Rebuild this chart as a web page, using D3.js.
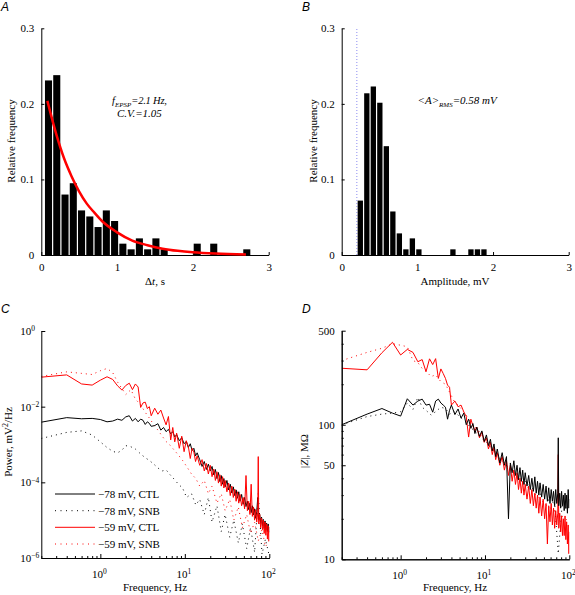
<!DOCTYPE html>
<html><head><meta charset="utf-8">
<script src="https://cdn.jsdelivr.net/npm/d3@7"></script>
<style>
body{margin:0;background:#fff;}
svg{display:block;}
</style></head><body>
<svg id="fig" width="575" height="595"></svg>
<script>
// ---------------- DATA ----------------
// Panel A: inter-EPSP interval histogram (relative frequency)
const intervalBinWidth = 0.109; // s
const intervalBinCenters = [0.095,0.204,0.313,0.422,0.531,0.640,0.749,0.858,0.967,1.076,1.185,1.294,1.403,1.512,1.621,1.730,1.839,1.948,2.057,2.166,2.275,2.384,2.493,2.602,2.711];
const intervalFreq = [0.231,0.238,0.080,0.095,0.059,0.051,0.037,0.059,0.045,0.015,0.0075,0.022,0.0075,0.022,0.0075,0,0,0,0.015,0,0.015,0,0,0,0.0075];
// exponential fit
const fitTime = [0.08,0.2,0.3,0.4,0.5,0.6,0.7,0.8,1.0,1.2,1.4,1.6,1.8,2.0,2.3,2.7];
const fitFreq = [0.204,0.159,0.128,0.104,0.084,0.068,0.056,0.045,0.030,0.019,0.013,0.0084,0.0055,0.0036,0.0019,0.0008];

// Panel B: EPSP amplitude histogram
const amplitudeBinWidth = 0.086; // mV
const amplitudeBinCenters = [0.246,0.332,0.418,0.504,0.590,0.676,0.762,0.848,0.934,1.020,1.470,1.708,1.794,1.880];
const amplitudeFreq = [0.072,0.214,0.223,0.2015,0.144,0.0576,0.0286,0.0075,0.022,0.0075,0.0075,0.0075,0.0075,0.0075];
const amplitudeThreshold = 0.2;

const histXTicks = [0,1,2,3];
const histXTickLabels = ["0","1","2","3"];
const histYTicks = [0,0.1,0.2,0.3];
const histYTickLabels = ["0","0.1","0.2","0.3"];

// Panels C & D: frequency grids (Hz)
const freqFine = [0.2,0.4,0.6,0.8,1.0,1.2,1.4,1.6,1.8,2.0,2.2,2.4,2.6,2.8,3.0,3.2,3.4,3.6,3.8,4.0,
 4.4,4.8,5.2,5.6,6.0,6.4,6.8,7.2,7.6,8.0,8.6,9.2,9.8,10.4,11.0,11.6,12.2,12.8,13.4,14.0,
 15,16,17,18,19,20,21,22,23,24,25,26,27,28,29,30,
 31.5,33,34.5,36,37.5,39,40.5,42,43.5,45,
 47,49,51,53,55,57,59,61,63,65,67,69,71,73,
 74,
 75,77,79,81,83,85,87,89,91,93,95,97,99,
 100];
const freqCoarse = [0.2,0.4,0.6,0.8,1.0,1.2,1.4,1.6,1.8,2.0,
 2.3,2.6,3.0,3.4,3.8,4.3,4.8,5.4,6,6.7,
 7.5,8.4,9.4,10.5,12,13.5,15,17,19,21,
 24,27,30,34,38,43,48,54,60,67,
 74,82,90,100];

// Panel C: power spectra, read as decades (log10 of mV^2/Hz)
const powerDecades78CTL = [-2.41,-2.29,-2.32,-2.31,-2.34,-2.40,-2.38,-2.33,-2.36,-2.27,-2.24,-2.38,-2.31,-2.40,-2.33,-2.36,-2.47,-2.40,-2.44,-2.52,
 -2.50,-2.45,-2.62,-2.55,-2.66,-2.60,-2.72,-2.66,-2.80,-2.74,-2.90,-2.82,-2.98,-2.92,-3.08,-2.98,-3.16,-3.10,-3.30,-3.22,
 -3.40,-3.58,-3.45,-3.66,-3.52,-3.70,-3.58,-3.80,-3.66,-3.90,-3.74,-3.98,-3.82,-4.05,-3.90,-4.12,
 -3.95,-4.20,-4.05,-4.28,-4.12,-4.35,-4.20,-4.42,-4.25,-4.50,
 -4.32,-4.58,-4.40,-4.64,-4.50,-4.72,-4.55,-4.80,-4.62,-4.86,-4.70,-4.95,-4.78,-4.40,
 -4.85,
 -5.00,-4.85,-5.08,-4.92,-5.15,-4.98,-5.22,-5.02,-5.25,-5.08,-5.30,-5.10,-5.32,
 -5.18];
const powerDecades59CTL = [-1.22,-1.16,-1.40,-1.43,-1.30,-1.21,-1.28,-1.45,-1.56,-1.44,-1.38,-1.55,-1.40,-1.48,-2.02,-1.90,-1.88,-2.05,-2.00,-2.24,
 -2.04,-2.20,-2.09,-2.30,-2.48,-2.26,-2.88,-2.55,-2.93,-2.70,-3.10,-2.78,-3.19,-2.90,-3.05,-3.37,-3.10,-3.20,-3.45,-3.30,
 -3.55,-3.40,-3.70,-3.50,-3.78,-3.55,-3.85,-3.65,-3.95,-3.72,-4.02,-3.80,-4.10,-3.85,-4.15,-3.95,
 -4.25,-4.02,-4.35,-4.10,-4.40,-4.18,-4.50,-4.25,-4.55,-4.32,
 -4.62,-4.40,-4.70,-3.82,-4.75,-4.50,-4.85,-4.05,-4.90,-4.65,-5.00,-4.72,-5.05,-4.80,
 -3.32,
 -5.10,-4.85,-5.20,-4.95,-5.25,-5.00,-5.35,-5.05,-5.40,-5.10,-5.50,-5.15,-5.55,
 -5.30];
const powerDecades78SNB = [-2.84,-2.68,-2.64,-2.75,-2.93,-3.08,-3.18,-3.22,-3.15,-3.03,
 -3.06,-3.12,-3.25,-3.35,-3.42,-3.52,-3.62,-3.70,-3.67,-3.80,
 -3.92,-4.05,-4.15,-4.40,-4.30,-4.60,-4.45,-4.85,-4.40,-5.05,
 -4.62,-5.30,-4.85,-5.45,-5.00,-5.60,-5.10,-5.75,-5.20,-5.85,
 -4.30,-5.90,-5.50,-5.95];
const powerDecades59SNB = [-1.20,-1.08,-1.12,-1.15,-1.05,-0.99,-1.10,-1.35,-1.52,-1.68,
 -1.55,-1.80,-1.95,-2.15,-2.30,-2.48,-2.62,-2.78,-2.92,-3.02,
 -3.15,-3.28,-3.42,-3.58,-3.78,-3.90,-4.10,-3.95,-4.30,-4.10,
 -4.55,-4.30,-4.75,-4.45,-5.00,-4.65,-5.20,-4.85,-5.35,-5.05,
 -5.55,-5.25,-5.70,-5.55];

// Panel D: impedance magnitude |Z| (MOhm)
const impedance78CTL = [100,120,132,122,116,156,140,150,155,140,142,124,150,155,145,140,135,110,128,140,
 119,131,112,122,100,110,94,102,86,96,82,90,75,84,70,78,64,72,58,66,
 52,62,50,58,20,52,44,54,42,50,39,48,38,46,36,44,
 35,42,33,40,32,41,31,38,30,37,
 29,36,28,35,27,34,26,33,27,32,25,33,26,31,
 80,
 25,31,24,32,25,30,23,31,24,30,22,33,24,
 28];
const impedance59CTL = [263,256,343,410,330,363,345,294,305,248,309,280,310,221,260,240,221,197,190,140,
 150,136,140,125,115,81,110,98,90,96,80,88,74,80,66,74,60,68,55,62,
 50,58,46,54,42,50,38,46,36,44,33,40,31,38,30,36,
 28,35,26,33,25,31,24,30,22,29,
 21,28,20,26,13,25,19,26,18,24,17,23,18,22,
 60,
 17,22,16,21,15,20,15,21,14,19,13,18,11,
 16];
const impedance78SNB = [100,115,120,122,125,145,130,160,135,128,
 118,125,135,132,120,125,118,110,104,96,
 90,84,78,74,66,62,56,52,48,46,
 43,40,38,35,33,31,30,28,27,26,
 11,25,24,24];
const impedance59SNB = [300,345,370,400,390,380,300,290,262,250,
 228,235,209,200,175,150,140,128,118,105,
 98,90,82,76,68,62,58,52,48,45,
 42,38,36,33,31,29,27,25,24,23,
 22,21,20,19];

const freqMajorTicks = [1,10,100];
const freqMajorExps = ["0","1","2"];
const powerTicks = [1e-6,1e-4,1e-2,1];
const powerTickExps = ["\u22126","\u22124","\u22122","0"];
const impedanceTicks = [10,50,100,500];
const impedanceTickLabels = ["10","50","100","500"];
const legendLabels = ["\u221278 mV, CTL","\u221278 mV, SNB","\u221259 mV, CTL","\u221259 mV, SNB"];

// ---------------- DRAWING ----------------
const FONT = '"Liberation Serif","Times New Roman",serif';
const SANS = '"Liberation Sans",Arial,sans-serif';
const RED = "#ff0000";
const svg = d3.select('#fig');

function styleAxis(g){
  g.attr('font-family', null).attr('font-size', null);
  g.selectAll('text').attr('font-family', FONT).attr('font-size', 11).attr('fill','#000');
  g.selectAll('line,path').attr('stroke','#000').attr('stroke-width',1);
}
function txt(g, x, y, s, opts={}){
  const t = g.append('text').attr('x',x).attr('y',y).attr('font-family',opts.family||FONT)
    .attr('font-size',opts.size||11).attr('fill','#000');
  if(opts.anchor) t.attr('text-anchor',opts.anchor);
  if(opts.italic) t.attr('font-style','italic');
  if(opts.rotate) t.attr('transform',`rotate(-90,${x},${y})`);
  if(s!==null) t.text(s);
  return t;
}

// panel letters
txt(svg,1,11,'A',{family:SANS,size:12,italic:true});
txt(svg,302,11,'B',{family:SANS,size:12,italic:true});
txt(svg,1,313,'C',{family:SANS,size:12,italic:true});
txt(svg,302,313,'D',{family:SANS,size:12,italic:true});

function histogram(g, x, y, centers, freqs, width){
  g.selectAll('rect.bar').data(centers).join('rect').attr('class','bar')
   .attr('x', d => x(d - width/2) + 0.6)
   .attr('width', x(width) - x(0) - 1.2)
   .attr('y', (d,i) => y(freqs[i]))
   .attr('height', (d,i) => y(0) - y(freqs[i]))
   .attr('fill','#000');
}
function histAxes(g, x, y){
  g.append('g').attr('transform',`translate(0,${y(0)})`)
   .call(d3.axisBottom(x).tickValues(histXTicks).tickFormat((d,i)=>histXTickLabels[i])
     .tickSizeInner(-3).tickSizeOuter(0).tickPadding(8)).call(styleAxis);
  g.append('g').attr('transform',`translate(${x(0)},0)`)
   .call(d3.axisLeft(y).tickValues(histYTicks).tickFormat((d,i)=>histYTickLabels[i])
     .tickSizeInner(-3).tickSizeOuter(0).tickPadding(7)).call(styleAxis);
}

// ---- Panel A ----
const xA = d3.scaleLinear().domain([0,3]).range([41.3,268.7]);
const yA = d3.scaleLinear().domain([0,0.3]).range([255,28.3]);
const gA = svg.append('g');
histogram(gA, xA, yA, intervalBinCenters, intervalFreq, intervalBinWidth);
histAxes(gA, xA, yA);
gA.append('path').datum(fitTime)
  .attr('d', d3.line().x(d=>xA(d)).y((d,i)=>yA(fitFreq[i])).curve(d3.curveMonotoneX))
  .attr('fill','none').attr('stroke',RED).attr('stroke-width',2.5);
{
  const t = txt(gA,112,103.5,null,{italic:true,size:10.5});
  t.append('tspan').text('f');
  t.append('tspan').attr('dy',3).attr('font-size',7).text('EPSP');
  t.append('tspan').attr('dy',-3).attr('letter-spacing',-0.2).text('=2.1 Hz,');
  txt(gA,117,117,'C.V.=1.05',{italic:true});
}
txt(gA,15,141,'Relative frequency',{anchor:'middle',rotate:true});
{
  const t = txt(gA,155,285,null,{anchor:'middle'});
  t.append('tspan').text('\u0394');
  t.append('tspan').attr('font-style','italic').text('t');
  t.append('tspan').text(', s');
}

// ---- Panel B ----
const xB = d3.scaleLinear().domain([0,3]).range([341.7,568.7]);
const yB = d3.scaleLinear().domain([0,0.3]).range([255,28.3]);
const gB = svg.append('g');
gB.append('line').attr('x1',xB(amplitudeThreshold)).attr('x2',xB(amplitudeThreshold))
  .attr('y1',yB(0)).attr('y2',yB(0.3)).attr('stroke','#8c8cf0').attr('stroke-width',1)
  .attr('stroke-dasharray','1,2');
histogram(gB, xB, yB, amplitudeBinCenters, amplitudeFreq, amplitudeBinWidth);
histAxes(gB, xB, yB);
{
  const t = txt(gB,417.5,103.5,null,{italic:true});
  t.append('tspan').text('<A>');
  t.append('tspan').attr('dy',3).attr('font-size',7).text('RMS');
  t.append('tspan').attr('dy',-3).text('=0.58 mV');
}
txt(gB,316.5,141,'Relative frequency',{anchor:'middle',rotate:true});
txt(gB,455,285,'Amplitude, mV',{anchor:'middle'});

// ---- helpers for log panels ----
function supLabels(sel, exps, anchorStart){
  sel.selectAll('.tick text').each(function(d,i){
    const t = d3.select(this);
    t.text(null);
    t.append('tspan').text('10');
    t.append('tspan').attr('dy','-0.5em').attr('font-size',7.5).text(exps[i]);
    if(anchorStart) t.attr('text-anchor','start').attr('x',-21);
    else t.attr('x',-1.5);
  });
}
function freqAxis(g, x, yPix){
  const minor = x.ticks().filter(v => !freqMajorTicks.some(m => Math.abs(m-v)<1e-9));
  g.append('g').attr('transform',`translate(0,${yPix})`)
   .call(d3.axisBottom(x).tickValues(minor).tickFormat('').tickSizeInner(-2).tickSizeOuter(0))
   .call(styleAxis);
  const a = g.append('g').attr('transform',`translate(0,${yPix})`)
   .call(d3.axisBottom(x).tickValues(freqMajorTicks).tickFormat('').tickSizeInner(-4).tickSizeOuter(0).tickPadding(12))
   .call(styleAxis);
  a.selectAll('.tick text').text('x');
  supLabels(a, freqMajorExps, false);
}
function drawSeries(g, x, y, freqs, vals, color, dotted, toValue){
  const n = Math.min(freqs.length, vals.length);
  const pts = d3.range(n).map(i => [x(freqs[i]), y(toValue(vals[i]))]);
  const p = g.append('path').datum(pts).attr('d', d3.line())
    .attr('fill','none').attr('stroke',color).attr('stroke-width',1).attr('stroke-linejoin','round');
  if(dotted) p.attr('stroke-dasharray','1,4');
  return p;
}
const fromDecades = v => Math.pow(10, v);
const identity = v => v;

// ---- Panel C ----
const xC = d3.scaleLog().domain([0.2,100]).range([41.3,269.3]);
const yC = d3.scaleLog().domain([1e-6,1]).range([558,331]);
const gC = svg.append('g');
svg.append('clipPath').attr('id','clipC').append('rect').attr('x',41.3).attr('y',331).attr('width',228).attr('height',227);
const linesC = gC.append('g').attr('clip-path','url(#clipC)');
drawSeries(linesC, xC, yC, freqCoarse, powerDecades78SNB, '#000', true, fromDecades);
drawSeries(linesC, xC, yC, freqCoarse, powerDecades59SNB, RED, true, fromDecades);
drawSeries(linesC, xC, yC, freqFine, powerDecades78CTL, '#000', false, fromDecades);
drawSeries(linesC, xC, yC, freqFine, powerDecades59CTL, RED, false, fromDecades);
freqAxis(gC, xC, 558);
{
  const a = gC.append('g').attr('transform','translate(41.3,0)')
   .call(d3.axisLeft(yC).tickValues(powerTicks).tickFormat('').tickSizeInner(-4).tickSizeOuter(0).tickPadding(3))
   .call(styleAxis);
  a.selectAll('.tick text').text('x');
  supLabels(a, powerTickExps, true);
}
{
  const t = txt(gC,11.5,442,null,{anchor:'middle',rotate:true});
  t.append('tspan').text('Power, mV');
  t.append('tspan').attr('dy',-4).attr('font-size',8).text('2');
  t.append('tspan').attr('dy',4).text('/Hz');
}
txt(gC,155,591,'Frequency, Hz',{anchor:'middle'});
// legend
{
  const styles = [['#000',false],['#000',true],[RED,false],[RED,true]];
  const rowY = [494,510.7,527.3,544];
  legendLabels.forEach((lab,i)=>{
    const l = gC.append('line').attr('x1',55).attr('x2',95).attr('y1',rowY[i]).attr('y2',rowY[i])
      .attr('stroke',styles[i][0]).attr('stroke-width',1);
    if(styles[i][1]) l.attr('stroke-dasharray','1,4.5');
    txt(gC,98,rowY[i]+4,lab);
  });
}

// ---- Panel D ----
const xD = d3.scaleLog().domain([0.2,100]).range([341.7,569.3]);
const yD = d3.scaleLog().domain([10,500]).range([559.3,330.7]);
const gD = svg.append('g');
svg.append('clipPath').attr('id','clipD').append('rect').attr('x',341.7).attr('y',330.7).attr('width',227.6).attr('height',228.6);
const linesD = gD.append('g').attr('clip-path','url(#clipD)');
drawSeries(linesD, xD, yD, freqCoarse, impedance78SNB, '#000', true, identity);
drawSeries(linesD, xD, yD, freqCoarse, impedance59SNB, RED, true, identity);
drawSeries(linesD, xD, yD, freqFine, impedance59CTL, RED, false, identity);
drawSeries(linesD, xD, yD, freqFine, impedance78CTL, '#000', false, identity);
freqAxis(gD, xD, 559.3);
{
  const minor = yD.ticks().filter(v => !impedanceTicks.includes(v));
  gD.append('g').attr('transform','translate(341.7,0)')
   .call(d3.axisLeft(yD).tickValues(minor).tickFormat('').tickSizeInner(-2).tickSizeOuter(0))
   .call(styleAxis);
  gD.append('g').attr('transform','translate(341.7,0)')
   .call(d3.axisLeft(yD).tickValues(impedanceTicks).tickFormat((d,i)=>impedanceTickLabels[i])
     .tickSizeInner(-4).tickSizeOuter(0).tickPadding(7))
   .call(styleAxis);
}
{
  const t = txt(gD,308,451,null,{anchor:'middle',rotate:true});
  t.append('tspan').text('|');
  t.append('tspan').attr('font-style','italic').text('Z');
  t.append('tspan').text('|, M\u03A9');
}
txt(gD,455,591,'Frequency, Hz',{anchor:'middle'});
</script>
</body></html>
